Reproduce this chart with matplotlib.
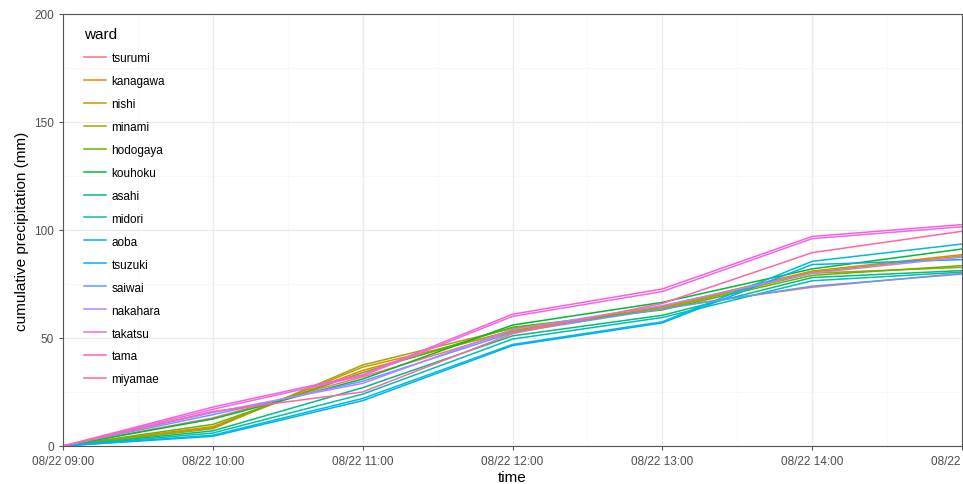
import matplotlib
matplotlib.use('Agg')
import matplotlib.pyplot as plt
import matplotlib.dates as mdates
import pandas as pd

plt.rcParams['font.family'] = ['Liberation Sans', 'DejaVu Sans']

# hourly timestamps
times = pd.date_range('2023-08-22 09:00', periods=7, freq='h')

wards = ['tsurumi', 'kanagawa', 'nishi', 'minami', 'hodogaya', 'kouhoku', 'asahi',
         'midori', 'aoba', 'tsuzuki', 'saiwai', 'nakahara', 'takatsu', 'tama', 'miyamae']

# ggplot hue palette, 15 levels
colors = ['#F8766D', '#E58700', '#C99800', '#A3A500', '#6BB100', '#00BA38', '#00BF7D',
          '#00C0AF', '#00BCD8', '#00B0F6', '#619CFF', '#B983FF', '#E76BF3', '#FD61D1', '#FF67A4']

# cumulative precipitation (mm) at 09:00 .. 15:00
tsurumi  = [0, 13.0, 32.0, 53.0, 64.0, 73.5, 80.0]
kanagawa = [0, 9.0, 35.0, 53.5, 64.5, 81.0, 88.6]
nishi    = [0, 8.5, 36.5, 53.0, 64.0, 80.5, 88.0]
minami   = [0, 8.0, 37.5, 54.5, 63.5, 80.0, 82.7]
hodogaya = [0, 10.0, 34.0, 55.0, 63.0, 79.0, 83.5]
kouhoku  = [0, 12.5, 31.0, 56.0, 66.5, 82.0, 91.2]
asahi    = [0, 7.0, 27.0, 51.0, 60.5, 78.0, 81.2]
midori   = [0, 6.0, 24.0, 49.5, 59.5, 76.5, 80.5]
aoba     = [0, 5.0, 22.0, 47.0, 57.5, 85.5, 93.5]
tsuzuki  = [0, 4.5, 21.0, 46.5, 57.0, 84.0, 86.3]
saiwai   = [0, 14.5, 30.0, 52.5, 63.5, 74.0, 79.6]
nakahara = [0, 15.5, 29.0, 54.0, 65.0, 80.0, 87.4]
takatsu  = [0, 17.0, 32.5, 60.0, 71.5, 96.0, 101.5]
tama     = [0, 18.0, 33.0, 61.0, 72.7, 97.0, 102.5]
miyamae  = [0, 16.0, 25.0, 52.0, 66.0, 89.5, 99.4]

series = [tsurumi, kanagawa, nishi, minami, hodogaya, kouhoku, asahi, midori,
          aoba, tsuzuki, saiwai, nakahara, takatsu, tama, miyamae]

fig = plt.figure(figsize=(9.63, 4.85), dpi=100)
ax = fig.add_axes([63 / 963, 38 / 485, 899 / 963, 432 / 485])

for name, vals, col in zip(wards, series, colors):
    ax.plot(times, vals, color=col, linewidth=1.1, label=name)

ax.set_xlim(times[0], times[-1])
ax.set_ylim(0, 200)
ax.set_yticks([0, 50, 100, 150, 200])
ax.set_yticks([25, 75, 125, 175], minor=True)
ax.xaxis.set_major_locator(mdates.HourLocator())
ax.xaxis.set_minor_locator(mdates.MinuteLocator(byminute=[30]))
ax.xaxis.set_major_formatter(mdates.DateFormatter('%m/%d %H:%M'))

ax.grid(True, which='major', color='#EBEBEB', linewidth=0.9)
ax.grid(True, which='minor', color='#F6F6F6', linewidth=0.5)
ax.set_axisbelow(True)

for sp in ax.spines.values():
    sp.set_color('#555555')
    sp.set_linewidth(0.8)
ax.tick_params(which='major', length=3, color='#555555', labelsize=8.5, labelcolor='#4D4D4D')
ax.tick_params(which='minor', length=0)

ax.set_xlabel('time', fontsize=11, labelpad=2)
ax.set_ylabel('cumulative precipitation (mm)', fontsize=11, labelpad=4)

leg = ax.legend(title='ward', loc='upper left', bbox_to_anchor=(0.012, 0.995), frameon=False,
                fontsize=8.5, title_fontsize=11, handlelength=1.8, handletextpad=0.5,
                labelspacing=0.93, alignment='left')

fig.savefig('out.png', dpi=100)
